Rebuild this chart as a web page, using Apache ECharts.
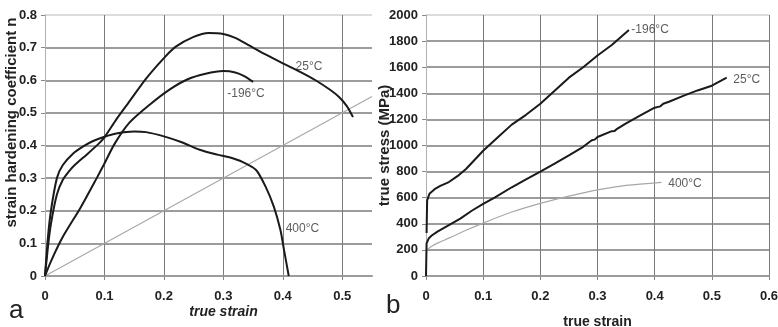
<!DOCTYPE html>
<html>
<head>
<meta charset="utf-8">
<script src="https://cdn.jsdelivr.net/npm/echarts@6/dist/echarts.min.js"></script>
<style>
  html, body { margin: 0; padding: 0; background: #fff; }
  #chart { width: 778px; height: 327px; }
</style>
</head>
<body>
<div id="chart"></div>
<script>
// Panel a: strain hardening coefficient n versus true strain
const hardening25 = [[0,0],[0.005,0.09],[0.01,0.16],[0.02,0.25],[0.03,0.295],[0.04,0.32],[0.05,0.34],[0.07,0.372],[0.09,0.405],[0.1,0.425],[0.12,0.48],[0.14,0.53],[0.17,0.605],[0.2,0.668],[0.22,0.703],[0.25,0.733],[0.275,0.745],[0.3,0.742],[0.32,0.73],[0.345,0.705],[0.37,0.68],[0.4,0.652],[0.43,0.625],[0.455,0.6],[0.48,0.57],[0.495,0.548],[0.508,0.52],[0.518,0.487]];
const hardeningM196 = [[0,0],[0.01,0.045],[0.03,0.12],[0.06,0.21],[0.087,0.3],[0.1,0.345],[0.117,0.405],[0.142,0.47],[0.176,0.525],[0.21,0.572],[0.24,0.603],[0.27,0.62],[0.3,0.628],[0.32,0.624],[0.335,0.613],[0.35,0.595]];
const hardening400 = [[0,0],[0.005,0.12],[0.01,0.2],[0.02,0.3],[0.03,0.34],[0.047,0.375],[0.065,0.398],[0.08,0.413],[0.1,0.427],[0.12,0.437],[0.15,0.443],[0.17,0.441],[0.2,0.428],[0.23,0.41],[0.26,0.387],[0.29,0.372],[0.31,0.364],[0.332,0.35],[0.355,0.325],[0.371,0.274],[0.385,0.212],[0.396,0.141],[0.402,0.08],[0.41,0]];
// Considere criterion n = true strain
const considereLine = [[0,0],[0.55,0.55]];
const hardeningLabels = [
  { name: '25°C', value: [0.444, 0.642] },
  { name: '-196°C', value: [0.338, 0.56] },
  { name: '400°C', value: [0.433, 0.146] }
];

// Panel b: true stress (MPa) versus true strain
const stress25 = [[0,0],[0.001,250],[0.005,290],[0.01,310],[0.02,340],[0.04,390],[0.06,440],[0.08,500],[0.1,552],[0.12,600],[0.15,680],[0.175,740],[0.2,800],[0.225,862],[0.25,925],[0.275,990],[0.29,1040],[0.295,1045],[0.3,1065],[0.325,1110],[0.33,1112],[0.335,1130],[0.35,1170],[0.375,1230],[0.4,1290],[0.41,1300],[0.415,1320],[0.425,1335],[0.45,1380],[0.475,1422],[0.5,1458],[0.526,1520]];
const stressM196 = [[0.001,330],[0.002,580],[0.006,630],[0.015,665],[0.025,690],[0.04,720],[0.055,765],[0.07,820],[0.1,960],[0.13,1080],[0.15,1160],[0.175,1235],[0.2,1320],[0.225,1420],[0.25,1520],[0.275,1600],[0.3,1690],[0.325,1770],[0.355,1885]];
const stress400 = [[0,195],[0.01,228],[0.02,252],[0.04,290],[0.07,350],[0.1,405],[0.15,490],[0.2,557],[0.25,612],[0.3,660],[0.35,694],[0.412,718]];
const stressLabels = [
  { name: '-196°C', value: [0.392, 1885] },
  { name: '25°C', value: [0.561, 1502] },
  { name: '400°C', value: [0.453, 710] }
];

const tickFont = { fontFamily: '"Liberation Sans Narrow", "Liberation Sans", Arial, sans-serif', fontWeight: 'bold', fontSize: 13, color: '#222' };
const curveStyle = { color: '#1a1a1a', width: 2 };
const faintStyle = { color: '#a8a8a8', width: 1.2 };

function hLineColors(n) {
  const c = [];
  for (let i = 0; i < n - 1; i++) c.push('#9c9c9c');
  c.push('#dcdcdc');
  return c;
}

function curve(data, x, style, smooth) {
  return {
    type: 'line', xAxisIndex: x, yAxisIndex: x, data: data,
    showSymbol: false, symbol: 'none', smooth: smooth,
    lineStyle: style, silent: true, z: 3
  };
}

function labelSeries(data, x) {
  return {
    type: 'scatter', xAxisIndex: x, yAxisIndex: x, data: data,
    symbolSize: 1, itemStyle: { color: 'rgba(0,0,0,0)' }, silent: true,
    label: {
      show: true, position: 'inside', formatter: p => p.name,
      fontFamily: '"Liberation Sans", Arial, sans-serif', fontSize: 12, color: '#333'
    }
  };
}

const plain = v => String(Math.round(v * 1000) / 1000);

const chart = echarts.init(document.getElementById('chart'), null, { renderer: 'canvas' });
chart.setOption({
  animation: false,
  backgroundColor: '#fff',
  grid: [
    { left: 45, top: 15, width: 327, height: 261, outerBoundsMode: 'none' },
    { left: 426, top: 15, width: 343, height: 261, outerBoundsMode: 'none' }
  ],
  xAxis: [
    {
      gridIndex: 0, type: 'value', min: 0, max: 0.55, interval: 0.1,
      name: 'true strain', nameLocation: 'middle', nameGap: 31, nameMoveOverlap: false,
      nameTextStyle: { fontFamily: '"Liberation Sans Narrow", Arial, sans-serif', fontWeight: 'bold', fontStyle: 'italic', fontSize: 14, lineHeight: 10, padding: [0, 0, 0, 30], color: '#222' },
      axisLine: { show: true, lineStyle: { color: '#9c9c9c', width: 2 } },
      axisTick: { show: true, length: 4, lineStyle: { color: '#888' } },
      axisLabel: Object.assign({ margin: 14, showMaxLabel: false, formatter: plain }, tickFont),
      splitLine: { show: true, showMaxLine: false, lineStyle: { color: '#7a7a7a', width: 1 } }
    },
    {
      gridIndex: 1, type: 'value', min: 0, max: 0.6, interval: 0.1,
      name: 'true strain', nameLocation: 'middle', nameGap: 41, nameMoveOverlap: false,
      nameTextStyle: { fontFamily: '"Liberation Sans Narrow", Arial, sans-serif', fontWeight: 'bold', fontSize: 14, lineHeight: 10, color: '#222' },
      axisLine: { show: true, lineStyle: { color: '#9c9c9c', width: 2 } },
      axisTick: { show: true, length: 4, lineStyle: { color: '#888' } },
      axisLabel: Object.assign({ margin: 14, formatter: plain }, tickFont),
      splitLine: { show: true, lineStyle: { color: '#7a7a7a', width: 1 } }
    }
  ],
  yAxis: [
    {
      gridIndex: 0, type: 'value', min: 0, max: 0.8, interval: 0.1,
      name: 'strain hardening coefficient n', nameLocation: 'middle', nameGap: 26, nameMoveOverlap: false,
      nameTextStyle: { fontFamily: '"Liberation Sans", Arial, sans-serif', fontWeight: 'bold', fontSize: 15, padding: [0, 0, 0, 46], color: '#222' },
      axisLine: { show: true, lineStyle: { color: '#b0b0b0', width: 1 } },
      axisTick: { show: true, length: 4, lineStyle: { color: '#888' } },
      axisLabel: Object.assign({ margin: 8, formatter: plain }, tickFont),
      splitLine: { show: true, lineStyle: { color: hLineColors(9), width: 2 } }
    },
    {
      gridIndex: 1, type: 'value', min: 0, max: 2000, interval: 200,
      name: 'true stress (MPa)', nameLocation: 'middle', nameGap: 34, nameMoveOverlap: false,
      nameTextStyle: { fontFamily: '"Liberation Sans", Arial, sans-serif', fontWeight: 'bold', fontSize: 15, color: '#222' },
      axisLine: { show: true, lineStyle: { color: '#b0b0b0', width: 1 } },
      axisTick: { show: true, length: 4, lineStyle: { color: '#888' } },
      axisLabel: Object.assign({ margin: 8, formatter: plain }, tickFont),
      splitLine: { show: true, lineStyle: { color: hLineColors(11), width: 2 } }
    }
  ],
  series: [
    curve(considereLine, 0, faintStyle, false),
    curve(hardening25, 0, curveStyle, 0.25),
    curve(hardeningM196, 0, curveStyle, 0.25),
    curve(hardening400, 0, curveStyle, 0.25),
    labelSeries(hardeningLabels, 0),
    curve(stress400, 1, faintStyle, 0.3),
    curve(stress25, 1, curveStyle, false),
    curve(stressM196, 1, curveStyle, false),
    labelSeries(stressLabels, 1)
  ],
  graphic: [
    { type: 'text', left: 9, top: 298, style: { text: 'a', fontFamily: '"Liberation Sans Narrow", Arial, sans-serif', fontSize: 26, fill: '#222' } },
    { type: 'text', left: 386, top: 293, style: { text: 'b', fontFamily: '"Liberation Sans Narrow", Arial, sans-serif', fontSize: 26, fill: '#222' } }
  ]
});
</script>
</body>
</html>
